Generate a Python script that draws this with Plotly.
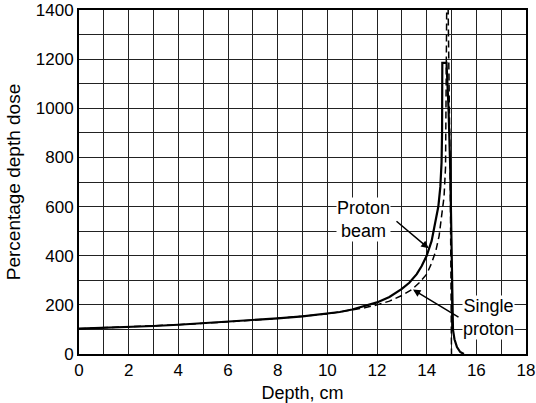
import plotly.graph_objects as go

# Proton beam (solid)
beam_x = [0, 1, 2, 3, 4, 5, 6, 7, 8, 9, 10, 10.5, 11, 11.5, 12, 12.5, 13, 13.3, 13.6, 13.8, 14.0, 14.2, 14.35, 14.47, 14.55, 14.6, 14.62, 14.63, 14.80, 14.88, 14.95, 15.0, 15.04, 15.06, 15.12, 15.22, 15.35, 15.5]
beam_y = [103, 106, 110, 114, 119, 125, 131, 138, 145, 153, 163, 171, 181, 194, 210, 232, 265, 290, 325, 358, 400, 460, 530, 600, 680, 780, 900, 1185, 1185, 1000, 750, 400, 160, 98, 60, 28, 8, 0]

# Single proton (dashed)
single_x = [0, 2, 4, 6, 8, 10, 11, 11.5, 12, 12.5, 13, 13.4, 13.7, 14.0, 14.2, 14.37, 14.5, 14.6, 14.7, 14.76, 14.79, 14.81, 14.86, 14.95, 15.0]
single_y = [103, 110, 119, 131, 145, 163, 179, 188, 200, 215, 238, 262, 290, 325, 370, 420, 480, 550, 640, 760, 1000, 1450, 1450, 700, 0]

x_ticks = list(range(0, 19))
x_labels = [str(v) if v % 2 == 0 else "" for v in x_ticks]
y_ticks = list(range(0, 1401, 100))
y_labels = [str(v) if v % 200 == 0 else "" for v in y_ticks]

FONT = "Liberation Sans"
W, H = 536, 403
L, R, T, B = 79, 10, 10, 49

fig = go.Figure()
fig.add_trace(go.Scatter(x=single_x, y=single_y, mode="lines",
                         line=dict(color="black", width=1.5, dash="7px,4px"),
                         name="Single proton", showlegend=False))
fig.add_trace(go.Scatter(x=beam_x, y=beam_y, mode="lines",
                         line=dict(color="black", width=2.2),
                         name="Proton beam", showlegend=False))

px_per_x = (W - L - R) / 18.0
px_per_y = (H - T - B) / 1400.0
def to_px(x, y):
    return L + x * px_per_x, T + (1400 - y) * px_per_y

# arrows (tails given in page pixels)
for (hx_d, hy_d), (tx, ty) in [((14.08, 430), (395, 220)), ((13.45, 262), (460, 318))]:
    hx, hy = to_px(hx_d, hy_d)
    fig.add_annotation(x=hx_d, y=hy_d, ax=tx - hx, ay=ty - hy,
                       xref="x", yref="y", text="", showarrow=True,
                       arrowhead=2, arrowsize=1, arrowwidth=1.5, arrowcolor="black")

fig.add_annotation(x=11.45, y=548, xref="x", yref="y", text="Proton<br>beam",
                   showarrow=False, font=dict(family=FONT, size=18, color="black"),
                   bgcolor="white", align="center", borderpad=0)
fig.add_annotation(x=16.5, y=150, xref="x", yref="y", text="Single<br>proton",
                   showarrow=False, font=dict(family=FONT, size=18, color="black"),
                   bgcolor="white", align="center", borderpad=0)

fig.update_layout(
    width=W, height=H,
    margin=dict(l=L, r=R, t=T, b=B),
    paper_bgcolor="white", plot_bgcolor="white",
    font=dict(family=FONT, size=17, color="black"),
)
fig.update_xaxes(range=[0, 18], tickvals=x_ticks, ticktext=x_labels, automargin=False,
                 ticklabeloverflow="allow",
                 showgrid=True, gridcolor="#222", gridwidth=1,
                 showline=True, linecolor="black", linewidth=2, mirror=True,
                 zeroline=False, ticks="", title=dict(text="Depth, cm", font=dict(size=18), standoff=10))
fig.update_yaxes(range=[0, 1400], tickvals=y_ticks, ticktext=y_labels, automargin=False,
                 ticklabeloverflow="allow",
                 showgrid=True, gridcolor="#222", gridwidth=1,
                 showline=True, linecolor="black", linewidth=2, mirror=True,
                 zeroline=False, ticks="", title=dict(text="Percentage depth dose", font=dict(size=19), standoff=10))

fig.write_html("out.html", config={"displayModeBar": False},
               post_script="document.body.style.margin='0';")
